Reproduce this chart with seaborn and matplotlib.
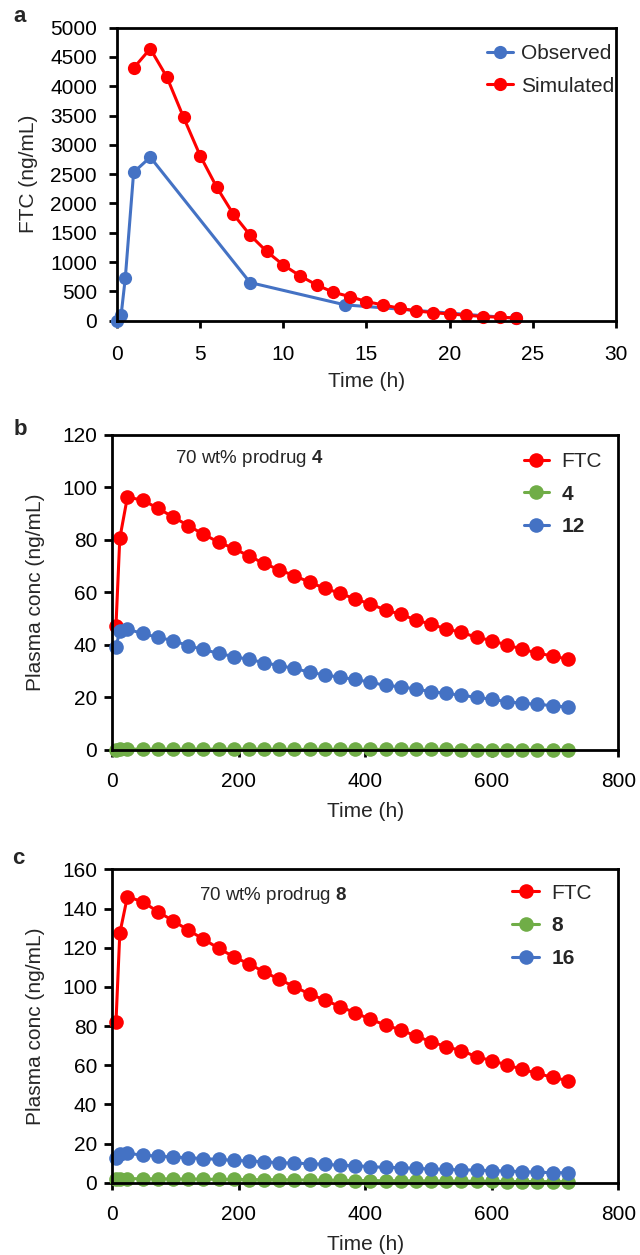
import matplotlib
matplotlib.use("Agg")
import matplotlib.pyplot as plt
import seaborn as sns

# Colores tipo Excel
rojo = "#FF0000"
azul = "#4472C4"
verde = "#70AD47"

# Panel a: FTC observado vs simulado
t_obs = [0, 0.25, 0.5, 1, 2, 8, 13.7, 24]
ftc_obs = [0, 100, 730, 2530, 2790, 650, 270, 40]
t_sim = [1, 2, 3, 4, 5, 6, 7, 8, 9, 10, 11, 12, 13, 14, 15, 16, 17, 18, 19, 20, 21, 22, 23, 24]
ftc_sim = [4310, 4640, 4155, 3470, 2815, 2275, 1815, 1460, 1180, 950, 765, 610, 485, 410,
           325, 268, 211, 165, 137, 114, 92, 70, 58, 46]

# Paneles b y c: tiempos (h)
t_bc = [6, 12, 24, 48, 72, 96, 120, 144, 168, 192, 216, 240, 264, 288, 312, 336, 360, 384,
        408, 432, 456, 480, 504, 528, 552, 576, 600, 624, 648, 672, 696, 720]

# Panel b: prodrug 4
b_ftc = [47.4, 80.6, 96.3, 95.2, 92.1, 88.8, 85.5, 82.2, 79.2, 76.8, 73.9, 71.1, 68.6, 66.4,
         63.9, 61.6, 59.7, 57.5, 55.6, 53.3, 51.7, 49.5, 47.9, 46.1, 44.8, 42.9, 41.7, 39.9,
         38.5, 36.8, 35.9, 34.5]
b_4 = [0.1, 0.2, 0.3, 0.3, 0.3, 0.3, 0.3, 0.3, 0.3, 0.3, 0.3, 0.3, 0.2, 0.2, 0.2, 0.2,
       0.2, 0.2, 0.2, 0.2, 0.2, 0.2, 0.2, 0.2, 0.1, 0.1, 0.1, 0.1, 0.1, 0.1, 0.1, 0.1]
b_12 = [39.1, 45.5, 46.0, 44.4, 42.9, 41.7, 39.7, 38.3, 36.8, 35.6, 34.5, 33.3, 32.1, 31.1,
        29.6, 28.6, 27.7, 26.9, 25.8, 24.6, 24.1, 23.2, 22.2, 21.6, 20.8, 20.1, 19.3, 18.4,
        17.8, 17.4, 16.9, 16.3]

# Panel c: prodrug 8
c_ftc = [82.0, 127.3, 146.0, 143.5, 138.4, 133.8, 129.0, 124.4, 119.7, 115.4, 111.7, 107.7,
         103.8, 100.1, 96.3, 93.3, 89.9, 86.8, 83.4, 80.5, 78.0, 74.9, 72.0, 69.4, 67.4,
         64.3, 62.3, 60.1, 57.9, 55.8, 53.8, 52.1]
c_8 = [1.8, 2.1, 2.1, 2.0, 2.0, 1.9, 1.9, 1.8, 1.7, 1.7, 1.6, 1.5, 1.5, 1.4, 1.3, 1.3,
       1.2, 1.1, 1.1, 1.0, 1.0, 0.9, 0.9, 0.8, 0.8, 0.7, 0.7, 0.6, 0.6, 0.6, 0.5, 0.5]
c_16 = [12.8, 14.5, 15.0, 14.1, 13.6, 13.1, 12.8, 12.3, 11.9, 11.4, 11.1, 10.7, 10.2, 10.0,
        9.7, 9.4, 8.9, 8.7, 8.2, 7.8, 7.7, 7.3, 7.0, 6.8, 6.5, 6.5, 6.1, 6.0, 5.6, 5.4, 5.1, 5.1]

sns.set_style("white")
plt.rcParams['font.family'] = ['Liberation Sans', 'DejaVu Sans']
plt.rcParams['mathtext.fontset'] = 'custom'
plt.rcParams['mathtext.bf'] = 'Liberation Sans:bold'
plt.rcParams['mathtext.rm'] = 'Liberation Sans'

fig = plt.figure(figsize=(6.4, 12.55), dpi=100)
ax_a = fig.add_axes([0.1828, 0.7445, 0.7797, 0.2335])
ax_b = fig.add_axes([0.1753, 0.4024, 0.7910, 0.2510])
ax_c = fig.add_axes([0.1753, 0.0576, 0.7910, 0.2497])


def serie(ax, x, y, color, label, ms=9.5):
    sns.lineplot(x=x, y=y, ax=ax, color=color, marker='o', markersize=ms,
                 markeredgewidth=0, linewidth=2.2, label=label, clip_on=False)


def estilo(ax, xpad, ypad):
    for s in ax.spines.values():
        s.set_color('black')
        s.set_linewidth(2.0)
    ax.tick_params(axis='x', length=5, width=2, direction='out', labelsize=15, pad=xpad,
                   bottom=True, colors='black')
    ax.tick_params(axis='y', length=6, width=2, direction='out', labelsize=15, pad=ypad,
                   left=True, colors='black')


# Panel a
serie(ax_a, t_obs, ftc_obs, azul, 'Observed')
serie(ax_a, t_sim, ftc_sim, rojo, 'Simulated')
ax_a.set_xlim(0, 30)
ax_a.set_ylim(0, 5000)
ax_a.set_xticks(range(0, 31, 5))
ax_a.set_yticks(range(0, 5001, 500))
estilo(ax_a, 12.5, 8.4)
ax_a.set_xlabel('Time (h)', fontsize=15, labelpad=6)
ax_a.set_ylabel('FTC (ng/mL)', fontsize=15, labelpad=9)
ax_a.legend(loc='upper left', bbox_to_anchor=(0.7415, 0.944), frameon=False, fontsize=15,
            handlelength=1.25, handletextpad=0.4, labelspacing=0.65, borderpad=0,
            borderaxespad=0)

# Panel b
serie(ax_b, t_bc, b_ftc, rojo, 'FTC', ms=10.5)
serie(ax_b, t_bc, b_4, verde, '4', ms=10.5)
serie(ax_b, t_bc, b_12, azul, '12', ms=10.5)
ax_b.set_xlim(0, 800)
ax_b.set_ylim(0, 120)
ax_b.set_xticks(range(0, 801, 200))
ax_b.set_yticks(range(0, 121, 20))
estilo(ax_b, 11, 4.8)
ax_b.set_xlabel('Time (h)', fontsize=15, labelpad=8)
ax_b.set_ylabel('Plasma conc (ng/mL)', fontsize=15, labelpad=12)
ax_b.text(0.1235, 0.924, r'70 wt% prodrug $\mathbf{4}$', transform=ax_b.transAxes,
          fontsize=13.5, va='center', ha='left')
leg = ax_b.legend(loc='upper left', bbox_to_anchor=(0.813, 0.946), frameon=False, fontsize=15,
                  handlelength=1.22, handletextpad=0.6, labelspacing=0.65, borderpad=0,
                  borderaxespad=0)
for txt in leg.get_texts()[1:]:
    txt.set_fontweight('bold')

# Panel c
serie(ax_c, t_bc, c_ftc, rojo, 'FTC', ms=10.5)
serie(ax_c, t_bc, c_8, verde, '8', ms=10.5)
serie(ax_c, t_bc, c_16, azul, '16', ms=10.5)
ax_c.set_xlim(0, 800)
ax_c.set_ylim(0, 160)
ax_c.set_xticks(range(0, 801, 200))
ax_c.set_yticks(range(0, 161, 20))
estilo(ax_c, 11, 4.8)
ax_c.set_xlabel('Time (h)', fontsize=15, labelpad=8)
ax_c.set_ylabel('Plasma conc (ng/mL)', fontsize=15, labelpad=12)
ax_c.text(0.1715, 0.918, r'70 wt% prodrug $\mathbf{8}$', transform=ax_c.transAxes,
          fontsize=13.5, va='center', ha='left')
leg = ax_c.legend(loc='upper left', bbox_to_anchor=(0.79, 0.954), frameon=False, fontsize=15,
                  handlelength=1.3, handletextpad=0.6, labelspacing=0.65, borderpad=0,
                  borderaxespad=0)
for txt in leg.get_texts()[1:]:
    txt.set_fontweight('bold')

# Letras de panel
fig.text(0.031, 1 - 17 / 1255, 'a', fontsize=16, fontweight='bold', va='center', ha='center')
fig.text(0.031, 1 - 430 / 1255, 'b', fontsize=16, fontweight='bold', va='center', ha='center')
fig.text(0.028, 1 - 858 / 1255, 'c', fontsize=16, fontweight='bold', va='center', ha='center')

fig.savefig('out.png', dpi=100)
